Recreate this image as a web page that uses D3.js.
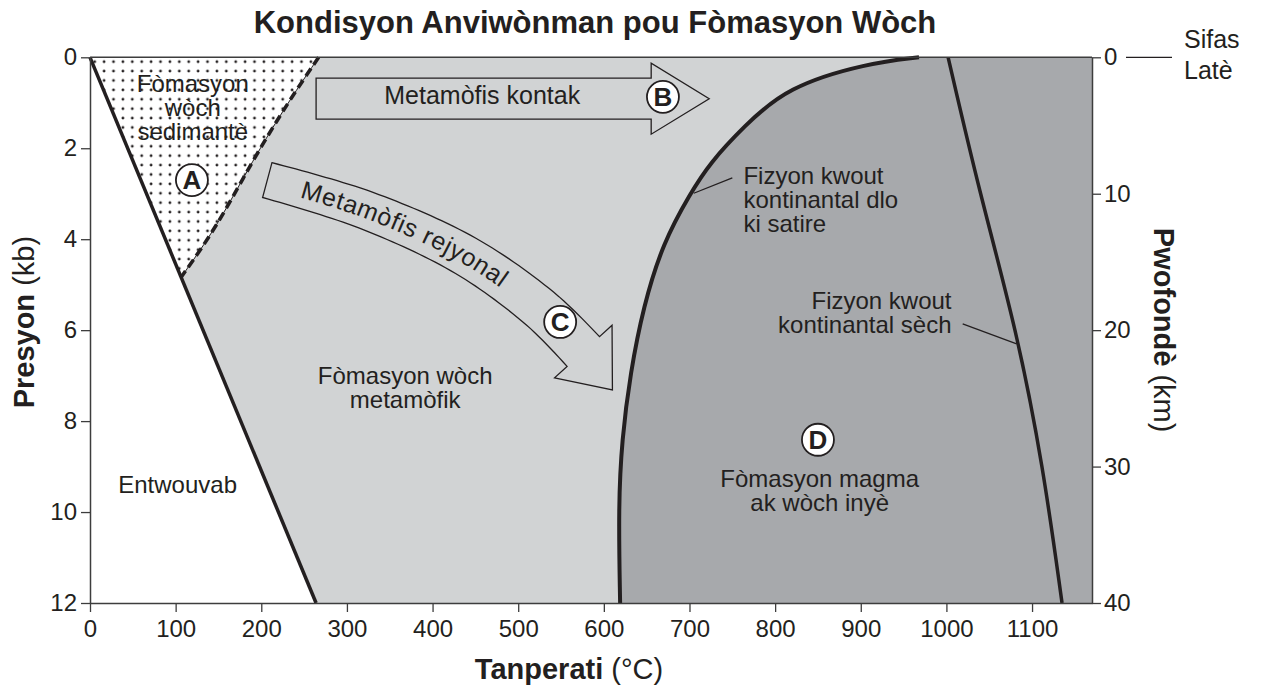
<!DOCTYPE html>
<html>
<head>
<meta charset="utf-8">
<script src="https://cdn.jsdelivr.net/npm/d3@7"></script>
<style>
  body { margin: 0; background: #fff; }
  text { font-family: "Liberation Sans", Arial, Helvetica, sans-serif; fill: #231f20; }
</style>
</head>
<body>
<div id="chart"></div>
<script>
// axis values
const tempTicks = [0, 100, 200, 300, 400, 500, 600, 700, 800, 900, 1000, 1100];
const pressTicks = [0, 2, 4, 6, 8, 10, 12];
const depthTicks = [0, 10, 20, 30, 40];
const tempMax = 1170, pressMax = 12, depthMax = 40;

// boundaries, [temperature °C, pressure kb]
const shallowBoundary = [[0, 0], [264, 12]];
const sedimentBoundary = [[267, 0], [233, 0.94], [190, 2.26], [148, 3.73], [107, 4.82]];
const wetSolidus = [[968, 0], [908, 0.13], [814, 0.65], [763, 1.53], [724, 2.32], [701, 2.99],
  [669, 4.08], [646, 5.49], [631, 6.94], [621, 8.41], [617, 9.88], [619, 12]];
const drySolidus = [[1002, 0], [1039, 3], [1082, 6], [1113, 9], [1135, 12]];

// arrows
const contactArrow = [[264, 0.91], [723, 0.91]];
const regionalArrow = [[207, 2.70], [322, 3.36], [439, 4.37], [527, 5.55], [576, 6.47]];

// labelled points
const markers = [
  { id: "A", t: 119, p: 2.70 },
  { id: "B", t: 669, p: 0.87 },
  { id: "C", t: 549, p: 5.82 },
  { id: "D", t: 850, p: 8.41 }
];

const width = 1263, height = 698;
const margin = { top: 57.3, right: 171, bottom: 95, left: 90 };
const ink = "#231f20";

const svg = d3.select("#chart")
  .append("svg")
  .attr("width", width)
  .attr("height", height);

const x = d3.scaleLinear().domain([0, tempMax]).range([margin.left, width - margin.right]);
const y = d3.scaleLinear().domain([0, pressMax]).range([margin.top, height - margin.bottom]);
const yDepth = d3.scaleLinear().domain([0, depthMax]).range(y.range());

const line = d3.line().x(d => x(d[0])).y(d => y(d[1]));
const smooth = d3.line().x(d => x(d[0])).y(d => y(d[1])).curve(d3.curveBasis);
const spline = d3.line().x(d => x(d[0])).y(d => y(d[1])).curve(d3.curveCatmullRom.alpha(0.5));

// dot pattern for sedimentary field
const defs = svg.append("defs");
const pat = defs.append("pattern")
  .attr("id", "dots")
  .attr("patternUnits", "userSpaceOnUse")
  .attr("x", 90).attr("y", 57)
  .attr("width", 9.4).attr("height", 9.4);
pat.append("circle").attr("cx", 4.7).attr("cy", 4.7).attr("r", 1.4).attr("fill", ink);

// background fields
svg.append("rect")
  .attr("x", x(0)).attr("y", y(0))
  .attr("width", x(tempMax) - x(0)).attr("height", y(pressMax) - y(0))
  .attr("fill", "#d1d3d4");

svg.append("path")
  .attr("d", smooth(wetSolidus) + "L" + x(tempMax) + "," + y(pressMax) + "L" + x(tempMax) + "," + y(0) + "Z")
  .attr("fill", "#a7a9ac");

svg.append("path")
  .attr("d", line([shallowBoundary[0], shallowBoundary[1], [0, pressMax]]) + "Z")
  .attr("fill", "#fff");

const sedPoly = smooth(sedimentBoundary) + "L" + x(shallowBoundary[0][0]) + "," + y(shallowBoundary[0][1]) + "Z";
svg.append("path").attr("d", sedPoly).attr("fill", "#fff");
svg.append("path").attr("d", sedPoly).attr("fill", "url(#dots)");

// boundary lines
svg.append("path")
  .attr("d", line(shallowBoundary))
  .attr("fill", "none").attr("stroke", ink).attr("stroke-width", 3.5);

svg.append("path")
  .attr("d", smooth(sedimentBoundary))
  .attr("fill", "none").attr("stroke", ink).attr("stroke-width", 1);
svg.append("path")
  .attr("d", smooth(sedimentBoundary))
  .attr("fill", "none").attr("stroke", ink).attr("stroke-width", 3.6)
  .attr("stroke-dasharray", "9,5");

svg.append("path")
  .attr("d", smooth(wetSolidus))
  .attr("fill", "none").attr("stroke", ink).attr("stroke-width", 4);

svg.append("path")
  .attr("d", smooth(drySolidus))
  .attr("fill", "none").attr("stroke", ink).attr("stroke-width", 3.5);

// contact metamorphism arrow (straight)
{
  const x0 = x(contactArrow[0][0]), x1 = x(contactArrow[1][0]), cy = y(contactArrow[0][1]);
  const hw = 20.5, hh = 35.5, hl = 58;
  const pts = [[x0, cy - hw], [x1 - hl, cy - hw], [x1 - hl, cy - hh], [x1, cy],
    [x1 - hl, cy + hh], [x1 - hl, cy + hw], [x0, cy + hw]];
  svg.append("polygon")
    .attr("points", pts.map(p => p.join(",")).join(" "))
    .attr("fill", "#d1d3d4").attr("stroke", ink).attr("stroke-width", 1.3);
  svg.append("text")
    .attr("x", x(458)).attr("y", y(1.03))
    .attr("text-anchor", "middle").attr("font-size", 25)
    .text("Metamòfis kontak");
}

// regional metamorphism arrow (curved)
{
  const centre = defs.append("path").attr("id", "regional").attr("d", spline(regionalArrow));
  const node = centre.node();
  const len = node.getTotalLength();
  const n = 60;
  const upper = [], lower = [];
  let endP, endT;
  for (let i = 0; i <= n; i++) {
    const s = len * i / n;
    const p = node.getPointAtLength(s);
    const a = node.getPointAtLength(Math.max(0, s - 1));
    const b = node.getPointAtLength(Math.min(len, s + 1));
    let tx = b.x - a.x, ty = b.y - a.y;
    const m = Math.hypot(tx, ty); tx /= m; ty /= m;
    const hw = 18 + 4 * i / n;
    upper.push([p.x + ty * hw, p.y - tx * hw]);
    lower.push([p.x - ty * hw, p.y + tx * hw]);
    if (i === n) { endP = p; endT = [tx, ty]; }
  }
  const hh = 39, hl = 52;
  const head = [
    [endP.x + endT[1] * hh, endP.y - endT[0] * hh],
    [endP.x + endT[0] * hl - 6, endP.y + endT[1] * hl],
    [endP.x - endT[1] * hh, endP.y + endT[0] * hh]
  ];
  const outline = upper.concat(head, lower.reverse());
  svg.append("polygon")
    .attr("points", outline.map(p => p.join(",")).join(" "))
    .attr("fill", "#d1d3d4").attr("stroke", ink).attr("stroke-width", 1.3);
  svg.append("text")
    .attr("font-size", 25).attr("dy", 8).attr("letter-spacing", 0.8)
    .append("textPath")
    .attr("href", "#regional")
    .attr("startOffset", 36)
    .text("Metamòfis rejyonal");
}

// field labels
function block(lines, t, p, anchor, lh) {
  const tx = svg.append("text")
    .attr("x", x(t)).attr("y", y(p))
    .attr("text-anchor", anchor).attr("font-size", 24);
  lines.forEach((s, i) => {
    tx.append("tspan").attr("x", x(t)).attr("dy", i ? lh : 0).text(s);
  });
}
block(["Fòmasyon", "wòch", "sedimantè"], 120, 0.76, "middle", 24);
block(["Entwouvab"], 33, 9.58, "start", 24);
block(["Fòmasyon wòch", "metamòfik"], 368, 7.18, "middle", 24);
block(["Fizyon kwout", "kontinantal dlo", "ki satire"], 763, 2.79, "start", 24);
block(["Fizyon kwout", "kontinantal sèch"], 1006, 5.53, "end", 24);
block(["Fòmasyon magma", "ak wòch inyè"], 852, 9.44, "middle", 24);

// leader lines
svg.append("path").attr("d", line([[750, 2.65], [705, 2.99]]))
  .attr("stroke", ink).attr("stroke-width", 1.3);
svg.append("path").attr("d", line([[1019, 5.86], [1082, 6.30]]))
  .attr("stroke", ink).attr("stroke-width", 1.3);

// lettered circles
const mk = svg.selectAll(".marker").data(markers).enter().append("g")
  .attr("class", "marker")
  .attr("transform", d => "translate(" + x(d.t) + "," + y(d.p) + ")");
mk.append("circle").attr("r", 16).attr("fill", "#fff").attr("stroke", ink).attr("stroke-width", 1.8);
mk.append("text")
  .attr("text-anchor", "middle").attr("dy", "0.36em")
  .attr("font-size", 26).attr("font-weight", "bold")
  .text(d => d.id);

// axes
const axisColor = "#3d3d3d";
function styleAxis(g) {
  g.select(".domain").attr("stroke", axisColor).attr("stroke-width", 1.5);
  g.selectAll(".tick line").attr("stroke", axisColor).attr("stroke-width", 1.3);
  g.selectAll(".tick text").attr("fill", ink).attr("font-size", 24)
    .attr("font-family", "\"Liberation Sans\", Arial, sans-serif");
}

svg.append("g")
  .attr("transform", "translate(0," + y(pressMax) + ")")
  .call(d3.axisBottom(x).tickValues(tempTicks).tickFormat(d3.format("d"))
    .tickSize(9).tickSizeOuter(0).tickPadding(8))
  .call(styleAxis);

svg.append("g")
  .attr("transform", "translate(" + x(0) + ",0)")
  .call(d3.axisLeft(y).tickValues(pressTicks).tickSize(9).tickSizeOuter(0).tickPadding(4))
  .call(styleAxis);

svg.append("g")
  .attr("transform", "translate(" + x(tempMax) + ",0)")
  .call(d3.axisRight(yDepth).tickValues(depthTicks).tickSize(9).tickSizeOuter(0).tickPadding(3))
  .call(styleAxis);

svg.append("line")
  .attr("x1", x(0)).attr("x2", x(tempMax)).attr("y1", y(0)).attr("y2", y(0))
  .attr("stroke", axisColor).attr("stroke-width", 1.5);

// surface label
svg.append("line")
  .attr("x1", 1126).attr("x2", 1172).attr("y1", yDepth(0)).attr("y2", yDepth(0))
  .attr("stroke", ink).attr("stroke-width", 1.3);
svg.append("text").attr("x", 1184).attr("y", 48).attr("font-size", 25).text("Sifas");
svg.append("text").attr("x", 1184).attr("y", 79).attr("font-size", 25).text("Latè");

// titles
svg.append("text")
  .attr("x", 595).attr("y", 33)
  .attr("text-anchor", "middle").attr("font-size", 31).attr("font-weight", "bold")
  .text("Kondisyon Anviwònman pou Fòmasyon Wòch");

const xt = svg.append("text")
  .attr("x", 569).attr("y", 679)
  .attr("text-anchor", "middle").attr("font-size", 29);
xt.append("tspan").attr("font-weight", "bold").text("Tanperati");
xt.append("tspan").text(" (°C)");

const yt = svg.append("text")
  .attr("transform", "translate(34," + (y(pressMax / 2) - 8) + ") rotate(-90)")
  .attr("text-anchor", "middle").attr("font-size", 29);
yt.append("tspan").attr("font-weight", "bold").text("Presyon");
yt.append("tspan").text(" (kb)");

const dt = svg.append("text")
  .attr("transform", "translate(1154," + y(pressMax / 2) + ") rotate(90)")
  .attr("text-anchor", "middle").attr("font-size", 29);
dt.append("tspan").attr("font-weight", "bold").text("Pwofondè");
dt.append("tspan").text(" (km)");
</script>
</body>
</html>
